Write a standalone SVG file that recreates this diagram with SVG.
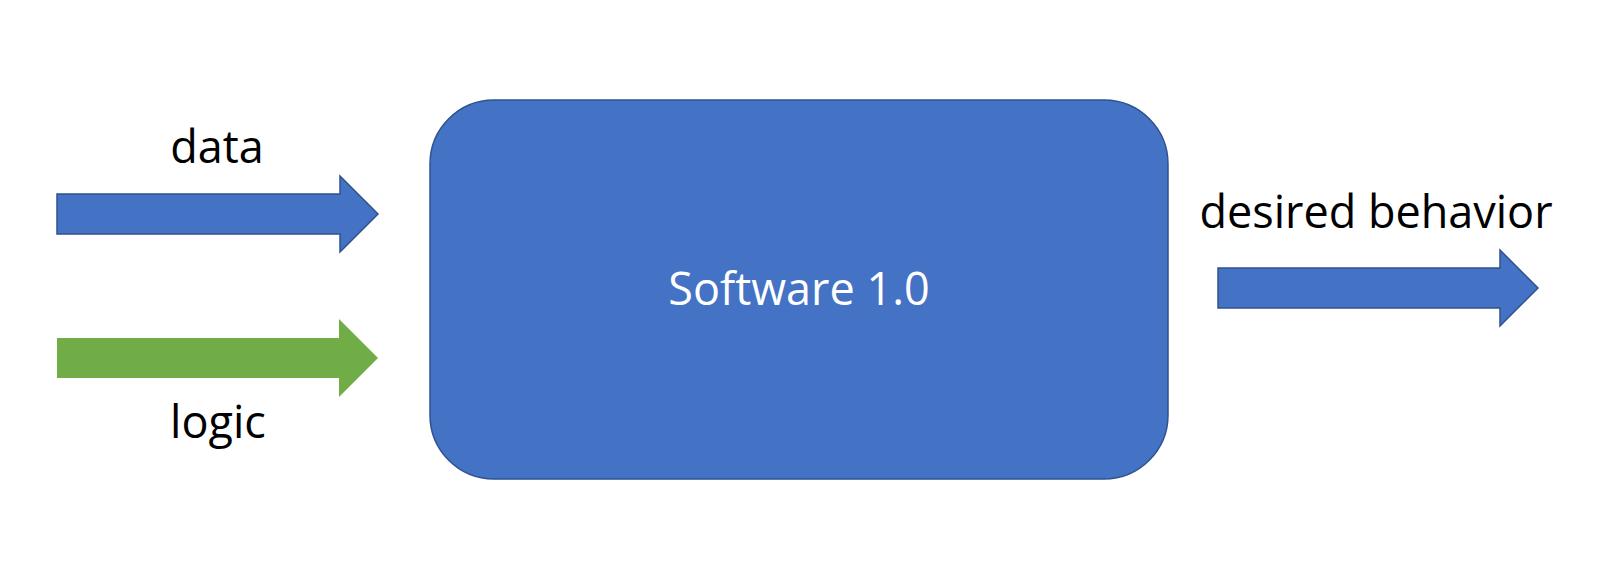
<svg xmlns="http://www.w3.org/2000/svg" width="1600" height="573" viewBox="0 0 1600 573">
<style>
.lbl{font-family:"Open Sans","Liberation Sans",sans-serif;font-size:45px;fill:#000;text-anchor:middle}
.blue{fill:#4472C4;stroke:#2F528F;stroke-width:1.5}
.green{fill:#70AD47;stroke:none}
</style>
<rect width="1600" height="573" fill="#fff"/>
<g id="software">
<rect x="430" y="100" width="738" height="379" rx="64" ry="64" class="blue"/>
<text x="799" y="305" class="lbl" style="fill:#fff">Software 1.0</text>
</g>
<g id="connectors">
<g id="data">
<path class="blue" d="M57,194 H340 V176 L378,214 L340,252 V234 H57 Z"/>
<text x="217" y="163" class="lbl">data</text>
</g>
<g id="logic">
<path class="green" d="M57,338 H339 V319 L378,358 L339,397 V378 H57 Z"/>
<text x="218" y="438" class="lbl">logic</text>
</g>
<g id="desired">
<path class="blue" d="M1218,268 H1500 V250 L1538,288 L1500,326 V308 H1218 Z"/>
<text x="1376" y="228" class="lbl">desired behavior</text>
</g>
</g>
</svg>
